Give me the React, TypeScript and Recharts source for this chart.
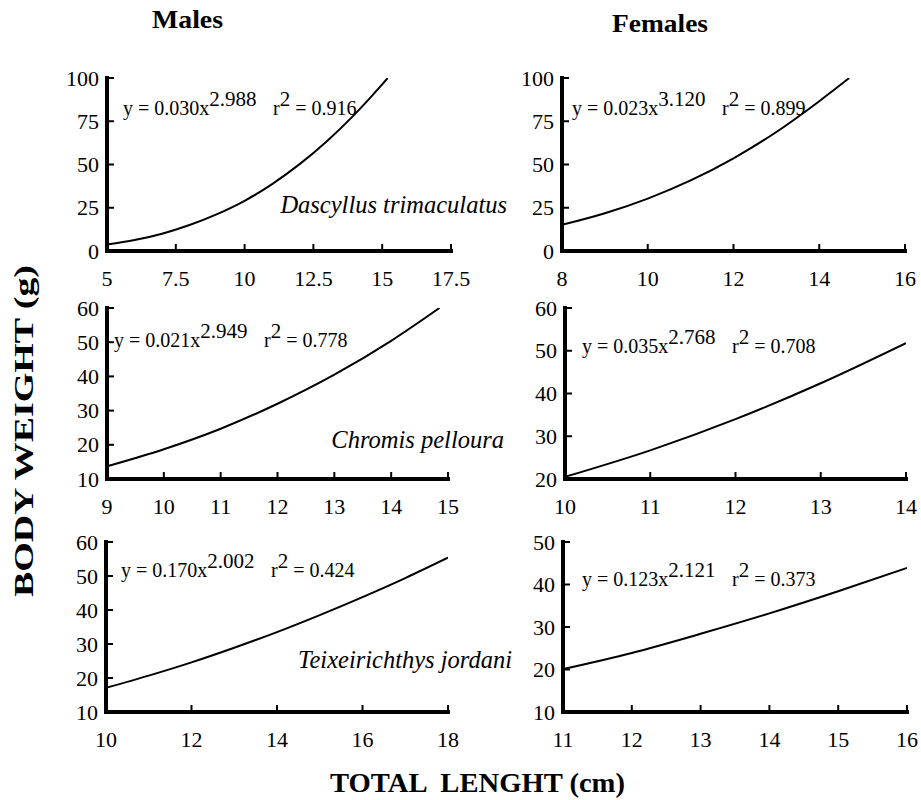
import React from "react";
import { LineChart, Line, XAxis, YAxis } from "recharts";

const FONT = "Liberation Serif, DejaVu Serif, serif";

// Dascyllus trimaculatus
const dascMaleLength = [5, 6, 7, 8, 9, 10, 11, 12, 13, 14, 15, 15.2];
const dascMaleWeight = [3.7, 6.3, 10.0, 15.0, 21.3, 29.0, 38.7, 50.2, 63.6, 79.0, 96.3, 100];
const dascFemaleLength = [8, 9, 10, 11, 12, 13, 14, 14.7];
const dascFemaleWeight = [15.1, 21.8, 30.3, 40.8, 53.6, 68.8, 86.6, 100];

// Chromis pelloura
const chromMaleLength = [9, 10, 11, 12, 13, 14, 14.85];
const chromMaleWeight = [13.7, 18.7, 24.7, 32.0, 40.5, 50.4, 60];
const chromFemaleLength = [10, 11, 12, 13, 14];
const chromFemaleWeight = [20.5, 26.7, 34.0, 42.4, 51.8];

// Teixeirichthys jordani
const teixMaleLength = [10, 11, 12, 13, 14, 15, 16, 17, 18];
const teixMaleWeight = [17.1, 20.7, 24.6, 28.9, 33.5, 38.5, 43.8, 49.4, 55.4];
const teixFemaleLength = [11, 12, 13, 14, 15, 16];
const teixFemaleWeight = [20.1, 23.9, 28.4, 33.2, 38.4, 43.9];

// axis ticks
const dascMaleXTicks = [5, 7.5, 10, 12.5, 15, 17.5];
const dascFemaleXTicks = [8, 10, 12, 14, 16];
const dascYTicks = [0, 25, 50, 75, 100];
const chromMaleXTicks = [9, 10, 11, 12, 13, 14, 15];
const chromFemaleXTicks = [10, 11, 12, 13, 14];
const chromMaleYTicks = [10, 20, 30, 40, 50, 60];
const chromFemaleYTicks = [20, 30, 40, 50, 60];
const teixMaleXTicks = [10, 12, 14, 16, 18];
const teixFemaleXTicks = [11, 12, 13, 14, 15, 16];
const teixMaleYTicks = [10, 20, 30, 40, 50, 60];
const teixFemaleYTicks = [10, 20, 30, 40, 50];

// fitted equations: [coefficient, exponent, r2]
const equations = [
  ["0.030", "2.988", "0.916"],
  ["0.023", "3.120", "0.899"],
  ["0.021", "2.949", "0.778"],
  ["0.035", "2.768", "0.708"],
  ["0.170", "2.002", "0.424"],
  ["0.123", "2.121", "0.373"],
];

const Y_AXIS_W = 70;
const X_AXIS_H = 45;
const TOP_PAD = 15;
const RIGHT_PAD = 30;

const axisStyle = { stroke: "#000", strokeWidth: 4, strokeLinecap: "square" };

const panels = [
  { left: 107, top: 78, w: 344, h: 173, xs: dascMaleLength, ys: dascMaleWeight, xd: [5, 17.5], xt: dascMaleXTicks, yd: [0, 100], yt: dascYTicks, eq: equations[0], ex: 123, ey: 115 },
  { left: 562, top: 78, w: 343, h: 173, xs: dascFemaleLength, ys: dascFemaleWeight, xd: [8, 16], xt: dascFemaleXTicks, yd: [0, 100], yt: dascYTicks, eq: equations[1], ex: 572, ey: 115 },
  { left: 107, top: 308, w: 341, h: 171, xs: chromMaleLength, ys: chromMaleWeight, xd: [9, 15], xt: chromMaleXTicks, yd: [10, 60], yt: chromMaleYTicks, eq: equations[2], ex: 114, ey: 347 },
  { left: 565, top: 308, w: 341, h: 171, xs: chromFemaleLength, ys: chromFemaleWeight, xd: [10, 14], xt: chromFemaleXTicks, yd: [20, 60], yt: chromFemaleYTicks, eq: equations[3], ex: 582, ey: 353 },
  { left: 106, top: 542, w: 342, h: 170, xs: teixMaleLength, ys: teixMaleWeight, xd: [10, 18], xt: teixMaleXTicks, yd: [10, 60], yt: teixMaleYTicks, eq: equations[4], ex: 121, ey: 577 },
  { left: 563, top: 542, w: 344, h: 170, xs: teixFemaleLength, ys: teixFemaleWeight, xd: [11, 16], xt: teixFemaleXTicks, yd: [10, 50], yt: teixFemaleYTicks, eq: equations[5], ex: 582, ey: 586 },
];

const species = [
  { name: "Dascyllus trimaculatus", x: 507, y: 213 },
  { name: "Chromis pelloura", x: 504, y: 448 },
  { name: "Teixeirichthys jordani", x: 512, y: 668 },
];

const textStyle = { fontFamily: FONT };

const XTick = (props: any) => {
  const { x, y, payload } = props;
  return (
    <g>
      <line x1={x} x2={x} y1={y} y2={y - 7} stroke="#000" strokeWidth={2} />
      <text x={x} y={y + 35} textAnchor="middle" style={textStyle} fontSize={22} fill="#000">
        {payload.value}
      </text>
    </g>
  );
};

const YTick = (props: any) => {
  const { x, y, payload } = props;
  return (
    <g>
      <line x1={x} x2={x + 7} y1={y} y2={y} stroke="#000" strokeWidth={2} />
      <text x={x - 8} y={y + 7.5} textAnchor="end" style={textStyle} fontSize={22} fill="#000">
        {payload.value}
      </text>
    </g>
  );
};

function Panel({ p }: { p: any }) {
  const data = p.xs.map((x: number, i: number) => ({ x, y: p.ys[i] }));
  return (
    <div style={{ position: "absolute", left: p.left - Y_AXIS_W, top: p.top - TOP_PAD }}>
      <LineChart
        width={p.w + Y_AXIS_W + RIGHT_PAD}
        height={p.h + TOP_PAD + X_AXIS_H}
        data={data}
        margin={{ top: TOP_PAD, right: RIGHT_PAD, bottom: 0, left: 0 }}
      >
        <XAxis
          dataKey="x"
          type="number"
          domain={p.xd}
          ticks={p.xt}
          interval={0}
          allowDataOverflow
          height={X_AXIS_H}
          tickSize={0}
          tickMargin={0}
          tickLine={false}
          axisLine={axisStyle}
          tick={XTick}
        />
        <YAxis
          type="number"
          domain={p.yd}
          ticks={p.yt}
          interval={0}
          allowDataOverflow
          width={Y_AXIS_W}
          tickSize={0}
          tickMargin={0}
          tickLine={false}
          axisLine={axisStyle}
          tick={YTick}
        />
        <Line
          dataKey="y"
          type="monotone"
          stroke="#000"
          strokeWidth={2}
          dot={false}
          isAnimationActive={false}
        />
      </LineChart>
    </div>
  );
}

export default function App() {
  return (
    <div style={{ position: "absolute", left: 0, top: 0, width: 921, height: 800, background: "#fff" }}>
      {panels.map((p, i) => (
        <Panel key={i} p={p} />
      ))}
      <svg
        width={921}
        height={800}
        style={{ position: "absolute", left: 0, top: 0, pointerEvents: "none", fontFamily: FONT }}
        fill="#000"
      >
        <text x={152} y={28} fontSize={26} fontWeight="bold" textLength={71} lengthAdjust="spacingAndGlyphs">Males</text>
        <text x={612} y={32} fontSize={26} fontWeight="bold" textLength={96} lengthAdjust="spacingAndGlyphs">Females</text>
        <text
          x={33}
          y={597}
          fontSize={27}
          fontWeight="bold"
          textLength={332}
          lengthAdjust="spacingAndGlyphs"
          transform="rotate(-90 33 597)"
        >
          BODY WEIGHT (g)
        </text>
        <text
          x={330}
          y={792}
          fontSize={27}
          fontWeight="bold"
          textLength={295}
          lengthAdjust="spacingAndGlyphs"
          style={{ whiteSpace: "pre" }}
        >
          {"TOTAL  LENGHT (cm)"}
        </text>
        {panels.map((p, i) => (
          <g key={i} fontSize={20}>
            <text x={p.ex} y={p.ey}>
              {`y = ${p.eq[0]}x`}
              <tspan dy={-9} fontSize={21}>{p.eq[1]}</tspan>
            </text>
            <text x={p.ex + 150} y={p.ey}>
              r<tspan dy={-9} fontSize={21}>2</tspan>
              <tspan dy={9}>{` = ${p.eq[2]}`}</tspan>
            </text>
          </g>
        ))}
        {species.map((s) => (
          <text key={s.name} x={s.x} y={s.y} textAnchor="end" fontSize={24.5} fontStyle="italic">
            {s.name}
          </text>
        ))}
      </svg>
    </div>
  );
}
